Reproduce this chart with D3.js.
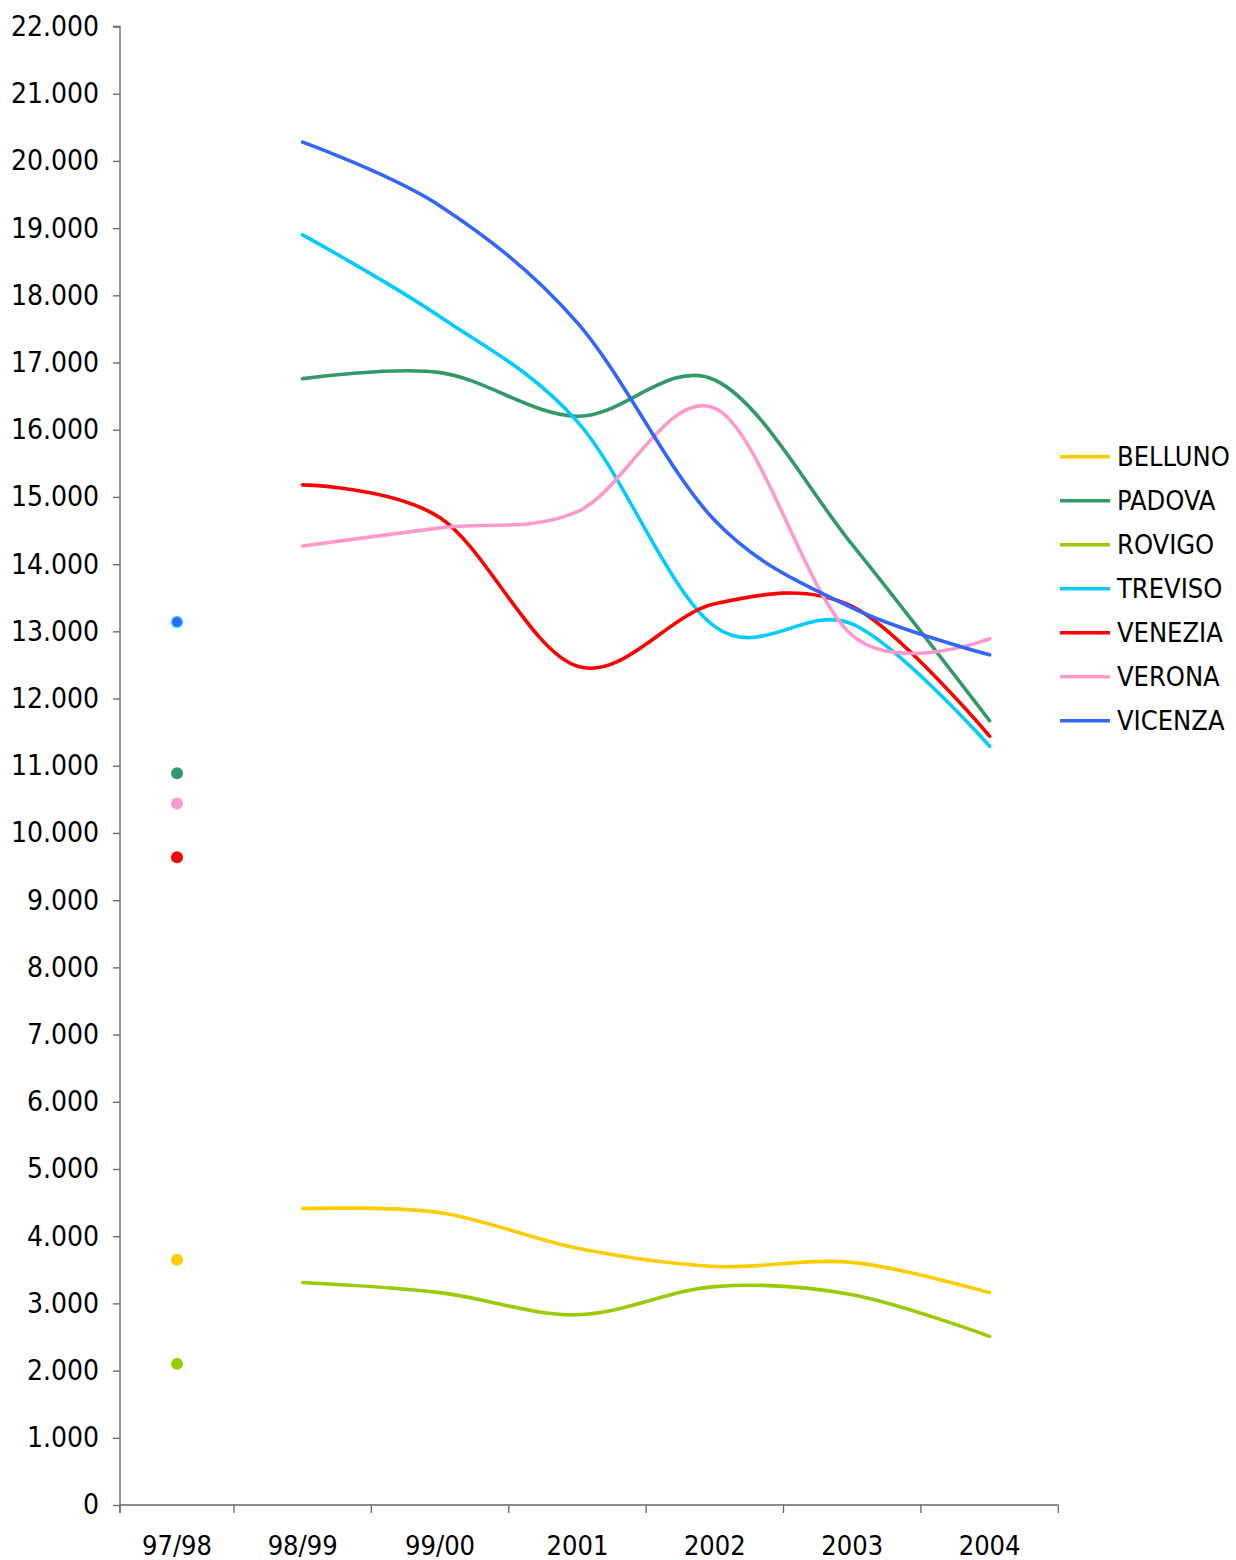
<!DOCTYPE html>
<html>
<head>
<meta charset="utf-8">
<script src="https://cdn.jsdelivr.net/npm/d3@7"></script>
<style>
  html, body { margin: 0; padding: 0; background: #fff; }
  svg { display: block; }
  text { font-family: "DejaVu Sans Condensed", "DejaVu Sans", sans-serif; fill: #000; }
</style>
</head>
<body>
<svg id="chart" width="1236" height="1560"></svg>
<script>
// ---- data ----
const categories = ["97/98", "98/99", "99/00", "2001", "2002", "2003", "2004"];
const seriesNames = ["BELLUNO", "PADOVA", "ROVIGO", "TREVISO", "VENEZIA", "VERONA", "VICENZA"];
const seriesColors = ["#FFCC00", "#339966", "#99CC00", "#00CCFF", "#FF0000", "#FF99CC", "#3366FF"];
const BELLUNO = [3650, 4410, 4350, 3820, 3550, 3610, 3160];
const PADOVA  = [10890, 16760, 16850, 16200, 16740, 14290, 11670];
const ROVIGO  = [2100, 3310, 3160, 2830, 3250, 3130, 2510];
const TREVISO = [13140, 18900, 17680, 16120, 13070, 13110, 11290];
const VENEZIA = [9640, 15180, 14690, 12480, 13410, 13370, 11440];
const VERONA  = [10440, 14270, 14540, 14780, 16320, 12940, 12890];
const VICENZA = [13140, 20280, 19330, 17590, 14650, 13350, 12650];
const yTicks = d3.range(0, 22001, 1000);

const seriesValues = [BELLUNO, PADOVA, ROVIGO, TREVISO, VENEZIA, VERONA, VICENZA];

// ---- layout ----
const svg = d3.select("#chart");
const axisX = 120;
const x = d3.scaleBand().domain(categories).range([96.6, 1058.3]).padding(0);
const y = d3.scaleLinear().domain([0, 22000]).range([1505, 26.5]);
const bw = x.bandwidth();
// centre of the visible part of each band (first band is clipped by the value axis)
const cx = c => { const a = Math.max(x(c), axisX), b = x(c) + bw; return (a + b) / 2; };

const loc = d3.formatLocale({decimal: ",", thousands: ".", grouping: [3], currency: ["€", ""]});
const fmt = loc.format(",d");

// y axis
const yAxis = svg.append("g").attr("transform", `translate(${axisX},0)`)
  .call(d3.axisLeft(y).tickValues(yTicks).tickSize(7).tickPadding(14).tickFormat(fmt));
yAxis.select(".domain").attr("stroke", "#666").attr("stroke-width", 1.3).attr("d", `M-7,${y(22000)}H0V${y(0) + 8}`);
yAxis.selectAll(".tick line").attr("stroke", "#666").attr("stroke-width", 1.3);
yAxis.selectAll(".tick text").attr("font-size", 28).attr("fill", "#000")
  .attr("font-family", '"DejaVu Sans Condensed", "DejaVu Sans", sans-serif');

// x axis
const xg = svg.append("g");
xg.append("line").attr("x1", axisX).attr("x2", x.range()[1]).attr("y1", y(0)).attr("y2", y(0))
  .attr("stroke", "#666").attr("stroke-width", 1.3);
const bounds = categories.map(c => Math.max(x(c), axisX)).concat([x(categories[categories.length - 1]) + bw]);
xg.selectAll("line.tk").data(bounds).join("line").attr("class", "tk")
  .attr("x1", d => d).attr("x2", d => d).attr("y1", y(0)).attr("y2", y(0) + 8)
  .attr("stroke", "#666").attr("stroke-width", 1.3);
xg.selectAll("text").data(categories).join("text")
  .attr("x", d => cx(d)).attr("y", 1555).attr("text-anchor", "middle").attr("font-size", 27).text(d => d);

// lines (from 98/99 on), smoothed like Excel
const line = d3.line().x(d => cx(d.c)).y(d => y(d.v)).curve(d3.curveCardinal.tension(0));
seriesNames.forEach((n, i) => {
  const pts = categories.slice(1).map((c, k) => ({c, v: seriesValues[i][k + 1]}));
  svg.append("path").datum(pts).attr("d", line).attr("fill", "none")
    .attr("stroke", seriesColors[i]).attr("stroke-width", 3.6).attr("stroke-linejoin", "round").attr("stroke-linecap", "round");
});

// isolated first-year points
seriesNames.forEach((n, i) => {
  svg.append("circle").attr("cx", cx(categories[0])).attr("cy", y(seriesValues[i][0]))
    .attr("r", n === "VICENZA" ? 4.6 : 6).attr("fill", seriesColors[i]);
});

// legend
const lg = svg.append("g");
seriesNames.forEach((n, i) => {
  const ly = 456.7 + i * 44;
  lg.append("line").attr("x1", 1060).attr("x2", 1110).attr("y1", ly).attr("y2", ly)
    .attr("stroke", seriesColors[i]).attr("stroke-width", 3.6);
  lg.append("text").attr("x", 1117).attr("y", ly).attr("dy", "0.36em").attr("font-size", 27).text(n);
});
</script>
</body>
</html>
